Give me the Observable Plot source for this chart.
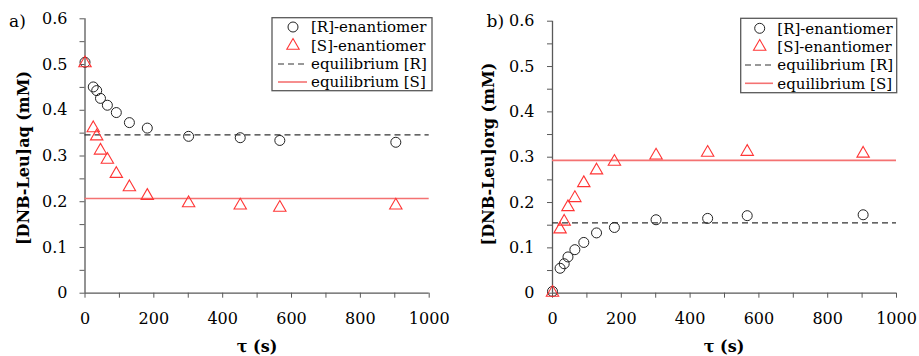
<!DOCTYPE html>
<html>
<head>
<meta charset="utf-8">
<script src="https://cdn.jsdelivr.net/npm/d3@7"></script>
<script src="https://cdn.jsdelivr.net/npm/@observablehq/plot@0.6"></script>
<style>
  html, body { margin: 0; padding: 0; background: #fff; }
  #wrap { position: relative; width: 919px; height: 356px; }
  .panel { position: absolute; top: 0; }
  svg g[aria-label="y-axis tick label"], svg g[aria-label="x-axis tick label"] { fill: #000; }
</style>
</head>
<body>
<div id="wrap"></div>
<script>
// ---- data ----
const tAq   = [0, 24, 34, 45, 65, 91, 129, 181, 301, 451, 566, 903];
const aqR   = [0.505, 0.451, 0.443, 0.426, 0.411, 0.395, 0.373, 0.361, 0.343, 0.340, 0.334, 0.330];
const aqS   = [0.503, 0.361, 0.343, 0.312, 0.292, 0.261, 0.232, 0.213, 0.197, 0.192, 0.187, 0.192];
const tOrg  = [0, 22, 34, 45, 65, 91, 128, 180, 301, 451, 566, 903];
const orgR  = [0.004, 0.055, 0.065, 0.080, 0.096, 0.112, 0.133, 0.145, 0.162, 0.165, 0.171, 0.173];
const orgS  = [0.001, 0.141, 0.158, 0.190, 0.210, 0.243, 0.271, 0.290, 0.304, 0.310, 0.312, 0.308];
const eqAq  = {R: 0.346, S: 0.207};
const eqOrg = {R: 0.155, S: 0.293};
const xDomain = [0, 1000];
const yDomain = [0, 0.6];
const xTicks = [0, 100, 200, 300, 400, 500, 600, 700, 800, 900, 1000];
const xLabels = [0, 200, 400, 600, 800, 1000];
const yTicks = [0, 0.05, 0.1, 0.15, 0.2, 0.25, 0.3, 0.35, 0.4, 0.45, 0.5, 0.55, 0.6];
const yLabels = [0, 0.1, 0.2, 0.3, 0.4, 0.5, 0.6];
const legendItems = ["[R]-enantiomer", "[S]-enantiomer", "equilibrium [R]", "equilibrium [S]"];

const AXIS = "#595959";
const RED = "#ff3535";
const RED_LINE = "#f47272";
const FONT = "DejaVu Serif";

function panel(cfg) {
  const rows = (t, v) => t.map((x, i) => ({x, y: v[i]}));
  const plot = Plot.plot({
    width: cfg.width, height: 356,
    marginLeft: cfg.ml, marginRight: cfg.mr, marginTop: cfg.mt, marginBottom: 63.3,
    style: {fontFamily: FONT, fontSize: "16px", background: "transparent"},
    x: {domain: xDomain},
    y: {domain: yDomain},
    marks: [
      Plot.axisY(yTicks, {tickSize: 5, tickPadding: cfg.typad, stroke: AXIS, label: null, fontSize: 16,
        tickFormat: d => yLabels.some(l => Math.abs(l - d) < 1e-9) ? (d === 0 ? "0" : d.toFixed(1)) : ""}),
      Plot.axisX(xTicks, {tickSize: 5, tickPadding: 14, stroke: AXIS, label: null, fontSize: 16,
        tickFormat: d => xLabels.includes(d) ? String(d) : ""}),
      Plot.ruleX([xDomain[0]], {y1: yDomain[0], y2: yDomain[1], stroke: AXIS, strokeWidth: 1.3}),
      Plot.ruleY([yDomain[0]], {x1: xDomain[0], x2: xDomain[1], stroke: AXIS, strokeWidth: 1.3}),
      Plot.ruleY([cfg.eq.R], {x1: xDomain[0], x2: xDomain[1], stroke: "#333", strokeWidth: 1.2, strokeDasharray: "6,4"}),
      Plot.ruleY([cfg.eq.S], {x1: xDomain[0], x2: xDomain[1], stroke: RED_LINE, strokeWidth: 1.6}),
      Plot.dot(rows(cfg.t, cfg.R), {x: "x", y: "y", r: 5, symbol: "circle", stroke: "#222", strokeWidth: 1, fill: "none"}),
      Plot.dot(rows(cfg.t, cfg.S), {x: "x", y: "y", r: 4.6, symbol: "triangle", stroke: RED, strokeWidth: 1.1, fill: "none"})
    ]
  });
  const svg = d3.select(plot);
  // panel label
  svg.append("text").attr("x", cfg.labX).attr("y", 27).attr("text-anchor", "start")
    .attr("font-family", FONT).attr("font-size", 17).text(cfg.panelLabel);
  // y title
  svg.append("text").attr("transform", `translate(${cfg.ytx},${cfg.yty}) rotate(-90)`)
    .attr("text-anchor", "middle").attr("dominant-baseline", "central")
    .attr("font-family", FONT).attr("font-weight", "bold").attr("font-size", 16).text(cfg.ytitle);
  // x title
  svg.append("text").attr("x", cfg.xtx).attr("y", 352).attr("text-anchor", "middle")
    .attr("font-family", FONT).attr("font-weight", "bold").attr("font-size", 16).text("τ (s)");
  // legend
  const L = cfg.leg;
  const g = svg.append("g").attr("text-anchor", "start");
  g.append("rect").attr("x", L.x).attr("y", L.y).attr("width", L.w).attr("height", L.h)
    .attr("fill", "#fff").attr("stroke", AXIS).attr("stroke-width", 1.3);
  legendItems.forEach((txt, i) => {
    const cy = L.rows[i];
    if (i === 0) g.append("circle").attr("cx", L.mx).attr("cy", cy).attr("r", 5).attr("fill", "none").attr("stroke", "#222");
    if (i === 1) g.append("path").attr("transform", `translate(${L.mx},${cy})`)
      .attr("d", d3.symbol(d3.symbolTriangle, Math.PI * 4.6 * 4.6)()).attr("fill", "none").attr("stroke", RED).attr("stroke-width", 1.1);
    if (i === 2) g.append("line").attr("x1", L.lx1).attr("x2", L.lx2).attr("y1", cy).attr("y2", cy)
      .attr("stroke", "#333").attr("stroke-width", 1.2).attr("stroke-dasharray", "6,4");
    if (i === 3) g.append("line").attr("x1", L.lx1).attr("x2", L.lx2).attr("y1", cy).attr("y2", cy)
      .attr("stroke", RED_LINE).attr("stroke-width", 1.6);
    g.append("text").attr("x", L.tx).attr("y", cy).attr("dy", "0.36em").attr("text-anchor", "start")
      .attr("font-family", FONT).attr("font-size", 15).text(txt);
  });
  return plot;
}

const wrap = document.getElementById("wrap");
const a = panel({
  width: 460, ml: 84.5, mr: 31.3, mt: 18.3, typad: 12.5,
  t: tAq, R: aqR, S: aqS, eq: eqAq,
  panelLabel: "a)", labX: 9, ytx: 23, yty: 158, xtx: 257, ytitle: "[DNB-Leu]aq (mM)",
  leg: {x: 272, y: 17.7, w: 160, h: 73, rows: [27, 45.7, 64, 82], mx: 293, lx1: 278, lx2: 307, tx: 311}
});
const b = panel({
  width: 459, ml: 92, mr: 23, mt: 20.7, typad: 13,
  t: tOrg, R: orgR, S: orgS, eq: eqOrg,
  panelLabel: "b)", labX: 26.5, ytx: 28, yty: 154, xtx: 264, ytitle: "[DNB-Leu]org (mM)",
  leg: {x: 280.7, y: 18.3, w: 156, h: 74.4, rows: [28.3, 46.7, 65, 83.3], mx: 299.7, lx1: 285, lx2: 313, tx: 317.3}
});
a.classList.add("panel"); a.style.left = "0px";
b.classList.add("panel"); b.style.left = "460px";
wrap.appendChild(a);
wrap.appendChild(b);
</script>
</body>
</html>
